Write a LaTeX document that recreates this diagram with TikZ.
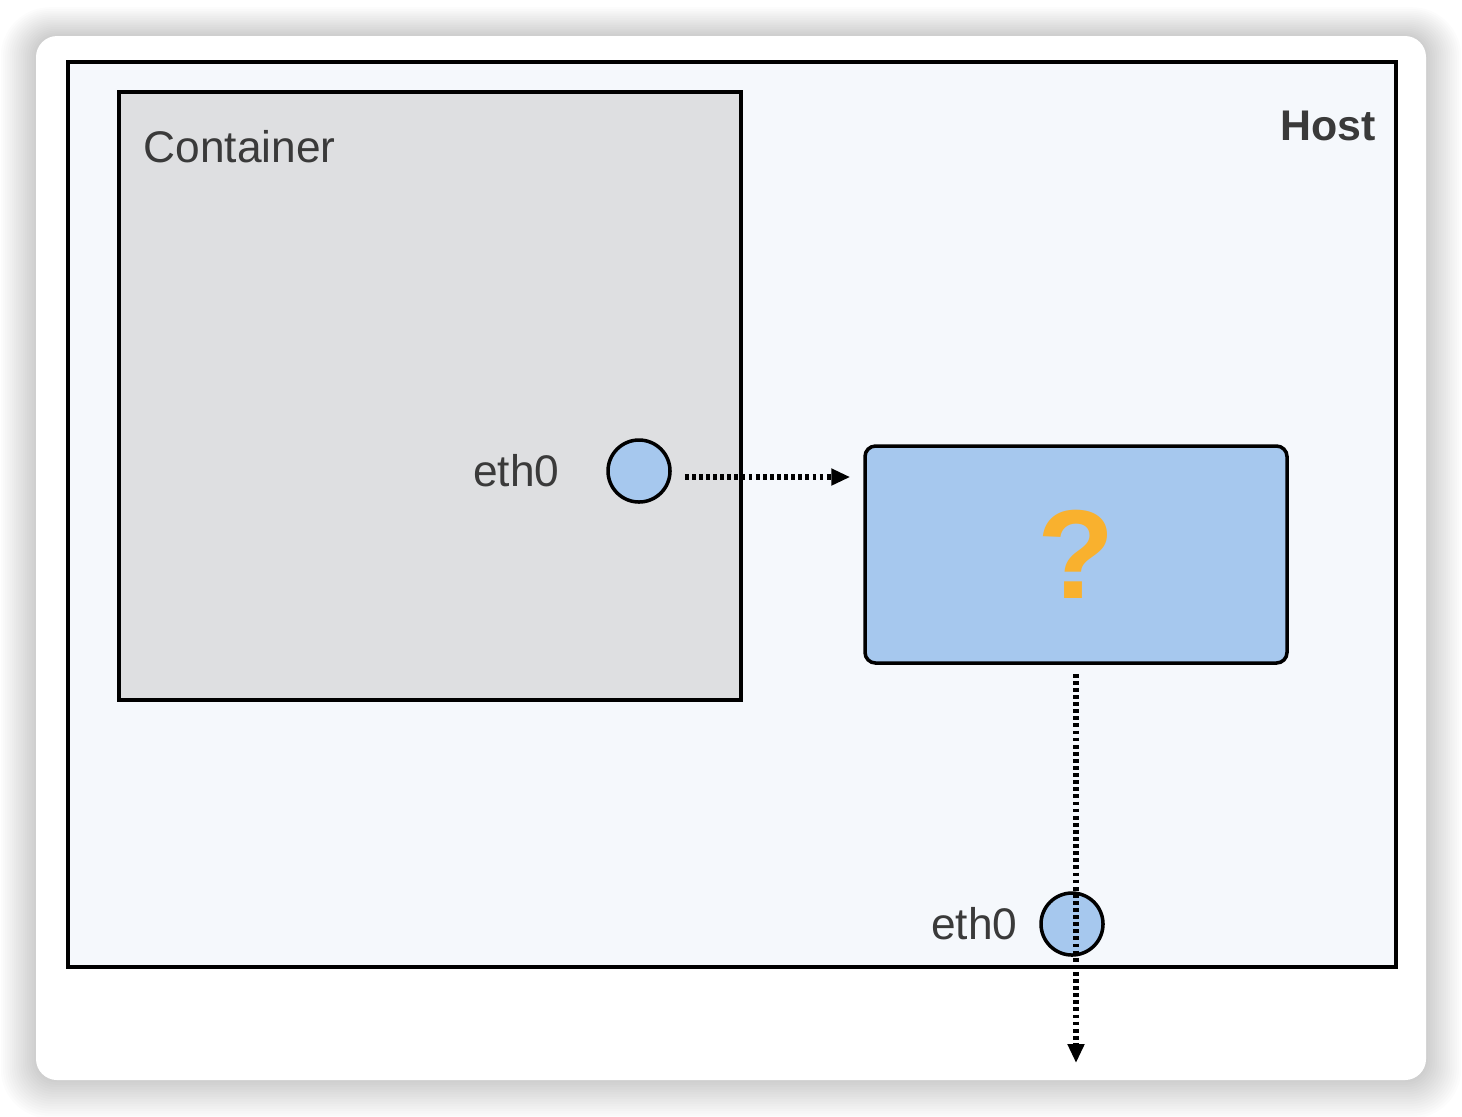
\documentclass[tikz,border=0pt]{standalone}
\usepackage{fontspec}
\setmainfont{Liberation Sans}
\usetikzlibrary{arrows.meta,positioning}
\definecolor{hostbg}{HTML}{F5F8FC}
\definecolor{contbg}{HTML}{DEDFE1}
\definecolor{ifblue}{HTML}{A6C8EE}
\definecolor{qorange}{HTML}{F9B12E}
\definecolor{txtgray}{HTML}{3A3A3A}
\tikzset{
  hostbox/.style={draw, line width=1pt, fill=hostbg, minimum width=13.28cm, minimum height=9.05cm, inner sep=0pt},
  contbox/.style={draw, line width=1pt, fill=contbg, minimum width=6.22cm, minimum height=6.08cm, inner sep=0pt},
  netbox/.style={draw, line width=1pt, rounded corners=3pt, fill=ifblue, minimum width=4.22cm, minimum height=2.17cm, inner sep=0pt},
  ifnode/.style={draw, circle, line width=1pt, fill=ifblue, minimum size=0.62cm, inner sep=0pt},
  lbl/.style={inner sep=0pt, text=txtgray, font=\fontsize{12.6}{15}\selectfont},
  dotarrow/.style={line width=1.6pt, dash pattern=on 0.038cm off 0.033cm, -{Triangle[length=0.19cm, width=0.16cm]}},
}
\begin{document}
\begin{tikzpicture}
  \useasboundingbox (0,0) rectangle (14.62,-11.16);
  \fill[white] (0,0) rectangle (14.62,-11.16);
  % soft shadow round the card
  \foreach \s in {1,...,16}
    \fill[black, opacity=0.013, rounded corners={6pt+\s*0.5pt}]
      ({0.36-\s*0.022},{-0.36+\s*0.018}) rectangle ({14.26+\s*0.022},{-10.80-\s*0.024});
  \fill[white, rounded corners=6pt] (0.36,-0.36) rectangle (14.26,-10.80);

  \node[hostbox] (host) at (7.32,-5.145) {};
  \node[contbox] (cont) at (4.30,-3.96) {};
  \node[lbl, anchor=west] (contlbl) at (1.43,-1.47) {Container};
  \node[lbl, anchor=east, font=\fontsize{12.2}{15}\selectfont\bfseries] (hostlbl) at (13.76,-1.26) {Host};

  \node[ifnode] (ceth) at (6.39,-4.71) {};
  \node[lbl, left=0.46cm of ceth] (cethlbl) {eth0};

  \node[netbox] (bridge) at (10.76,-5.545) {};
  \node[text=qorange, font=\fontsize{36}{40}\selectfont\bfseries] (qmark) at (bridge.center) {?};

  \node[ifnode] (heth) at (10.72,-9.24) {};
  \node[lbl, left=0.21cm of heth] (hethlbl) {eth0};

  \coordinate (outside) at (10.76,-10.63);
  \draw[dotarrow] ([shift={(0.13,-0.06)}]ceth.east) -- ([shift={(-0.13,-0.06)}]ceth.east -| bridge.west);
  \draw[dotarrow] ([yshift=-0.09cm]bridge.south) -- (outside);
\end{tikzpicture}
\end{document}
